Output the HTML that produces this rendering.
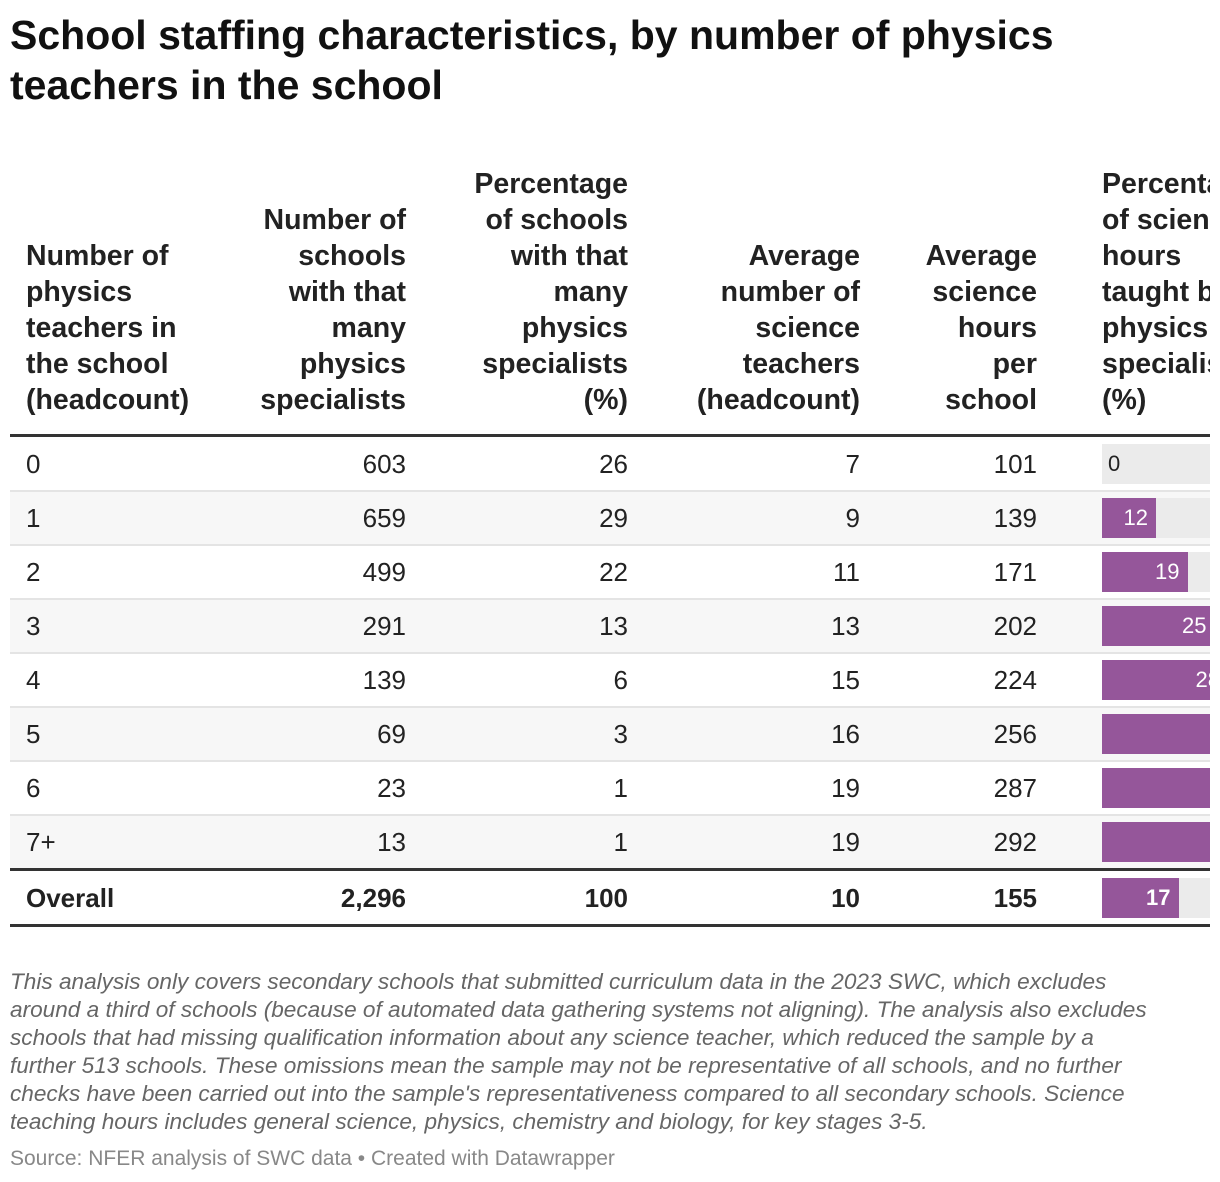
<!DOCTYPE html>
<html><head><meta charset="utf-8">
<style>
body{margin:0;width:1220px;height:1182px;background:#fff;font-family:"Liberation Sans",sans-serif;color:#181818;overflow:hidden;position:relative}
#title{position:absolute;left:10px;top:10px;font-size:41px;font-weight:bold;line-height:50px;color:#111;white-space:nowrap}
#wrap{position:absolute;left:0;top:0;width:1210px;height:940px;overflow:hidden}
.h{position:absolute;font-size:28.5px;font-weight:bold;line-height:36px;bottom:522px;color:#222;white-space:nowrap}
.c{position:absolute;font-size:26px;line-height:54px;color:#222;white-space:nowrap}
.rowbg{position:absolute;left:10px;width:1200px;height:54px}
.sep{position:absolute;left:10px;width:1200px;height:2px;background:#e4e4e4}
.thick{position:absolute;left:10px;width:1200px;height:3px;background:#333}
.bg{position:absolute;height:40px;background:#ebebeb}
.bar{position:absolute;height:40px;background:#95569a}
.bl{position:absolute;font-size:22px;line-height:40px;color:#fff;text-align:right}
#note{position:absolute;left:10px;top:968px;font-size:22.6px;line-height:28px;font-style:italic;color:#666;white-space:nowrap}
#src{position:absolute;left:10px;top:1145px;font-size:21px;line-height:28px;color:#888;white-space:nowrap}
</style></head><body>
<div id="title">School staffing characteristics, by number of physics<br>teachers in the school</div>
<div id="wrap">
<div class="h" style="left:26px">Number of<br>physics<br>teachers in<br>the school<br>(headcount)</div>
<div class="h" style="right:804px;text-align:right">Number of<br>schools<br>with that<br>many<br>physics<br>specialists</div>
<div class="h" style="right:582px;text-align:right">Percentage<br>of schools<br>with that<br>many<br>physics<br>specialists<br>(%)</div>
<div class="h" style="right:350px;text-align:right">Average<br>number of<br>science<br>teachers<br>(headcount)</div>
<div class="h" style="right:173px;text-align:right">Average<br>science<br>hours<br>per<br>school</div>
<div class="h" style="left:1102px">Percentage<br>of science<br>hours<br>taught by<br>physics<br>specialists<br>(%)</div>
</div>
<div id="note">This analysis only covers secondary schools that submitted curriculum data in the 2023 SWC, which excludes<br>around a third of schools (because of automated data gathering systems not aligning). The analysis also excludes<br>schools that had missing qualification information about any science teacher, which reduced the sample by a<br>further 513 schools. These omissions mean the sample may not be representative of all schools, and no further<br>checks have been carried out into the sample's representativeness compared to all secondary schools. Science<br>teaching hours includes general science, physics, chemistry and biology, for key stages 3-5.</div>
<div id="src">Source: NFER analysis of SWC data • Created with Datawrapper</div>
<script>
const categories=["0","1","2","3","4","5","6","7+"];
const schools=["603","659","499","291","139","69","23","13"];
const pctSchools=["26","29","22","13","6","3","1","1"];
const sciTeachers=["7","9","11","13","15","16","19","19"];
const sciHours=["101","139","171","202","224","256","287","292"];
const pctHours=[0,12,19,25,28,32,36,40];
const overall=["Overall","2,296","100","10","155"];
const overallPct=17;
const W=document.getElementById('wrap');
const barX=1102,pxPer=4.5,bgW=250;
function xs(v){return v*pxPer;}
function mk(cls,name,style,txt){const d=document.createElement('div');d.className=cls;


d.style.cssText=style;if(txt!==undefined)d.textContent=txt;W.appendChild(d);return d;}
mk('thick','header-rule','top:434px');
const rightEdges=[804,582,350,173];
function row(top,vals,pct,name,bold){
  const fw=bold?'font-weight:bold;':'';
  mk('c',name+'-label',fw+'left:26px;top:'+top+'px',vals[0]);
  for(let j=1;j<5;j++) mk('c',name+'-col'+j,fw+'right:'+rightEdges[j-1]+'px;top:'+top+'px;text-align:right',vals[j]);
  mk('bg',name+'-bar-bg','left:'+barX+'px;width:'+bgW+'px;top:'+(top+7)+'px');
  const w=xs(pct);
  if(w>0) mk('bar',name+'-bar','left:'+barX+'px;width:'+w+'px;top:'+(top+7)+'px');
  mk('bl',name+'-bar-label',fw+(w<30?'color:#222;left:'+(barX+6)+'px;':'left:'+barX+'px;width:'+(w-8)+'px;')+'top:'+(top+7)+'px',String(pct));
}
categories.forEach((c,i)=>{
  const top=437+i*54;
  if(i%2==1) mk('rowbg','row-bg-'+i,'top:'+top+'px;background:#f7f7f7');
  if(i>0) mk('sep','row-sep-'+i,'top:'+(top-1)+'px');
  row(top,[c,schools[i],pctSchools[i],sciTeachers[i],sciHours[i]],pctHours[i],'row-'+c.replace('+','plus'),false);
});
mk('thick','overall-rule','top:868px');
row(871,overall,overallPct,'row-overall',true);
mk('thick','bottom-rule','top:924px');
</script>
</body></html>
